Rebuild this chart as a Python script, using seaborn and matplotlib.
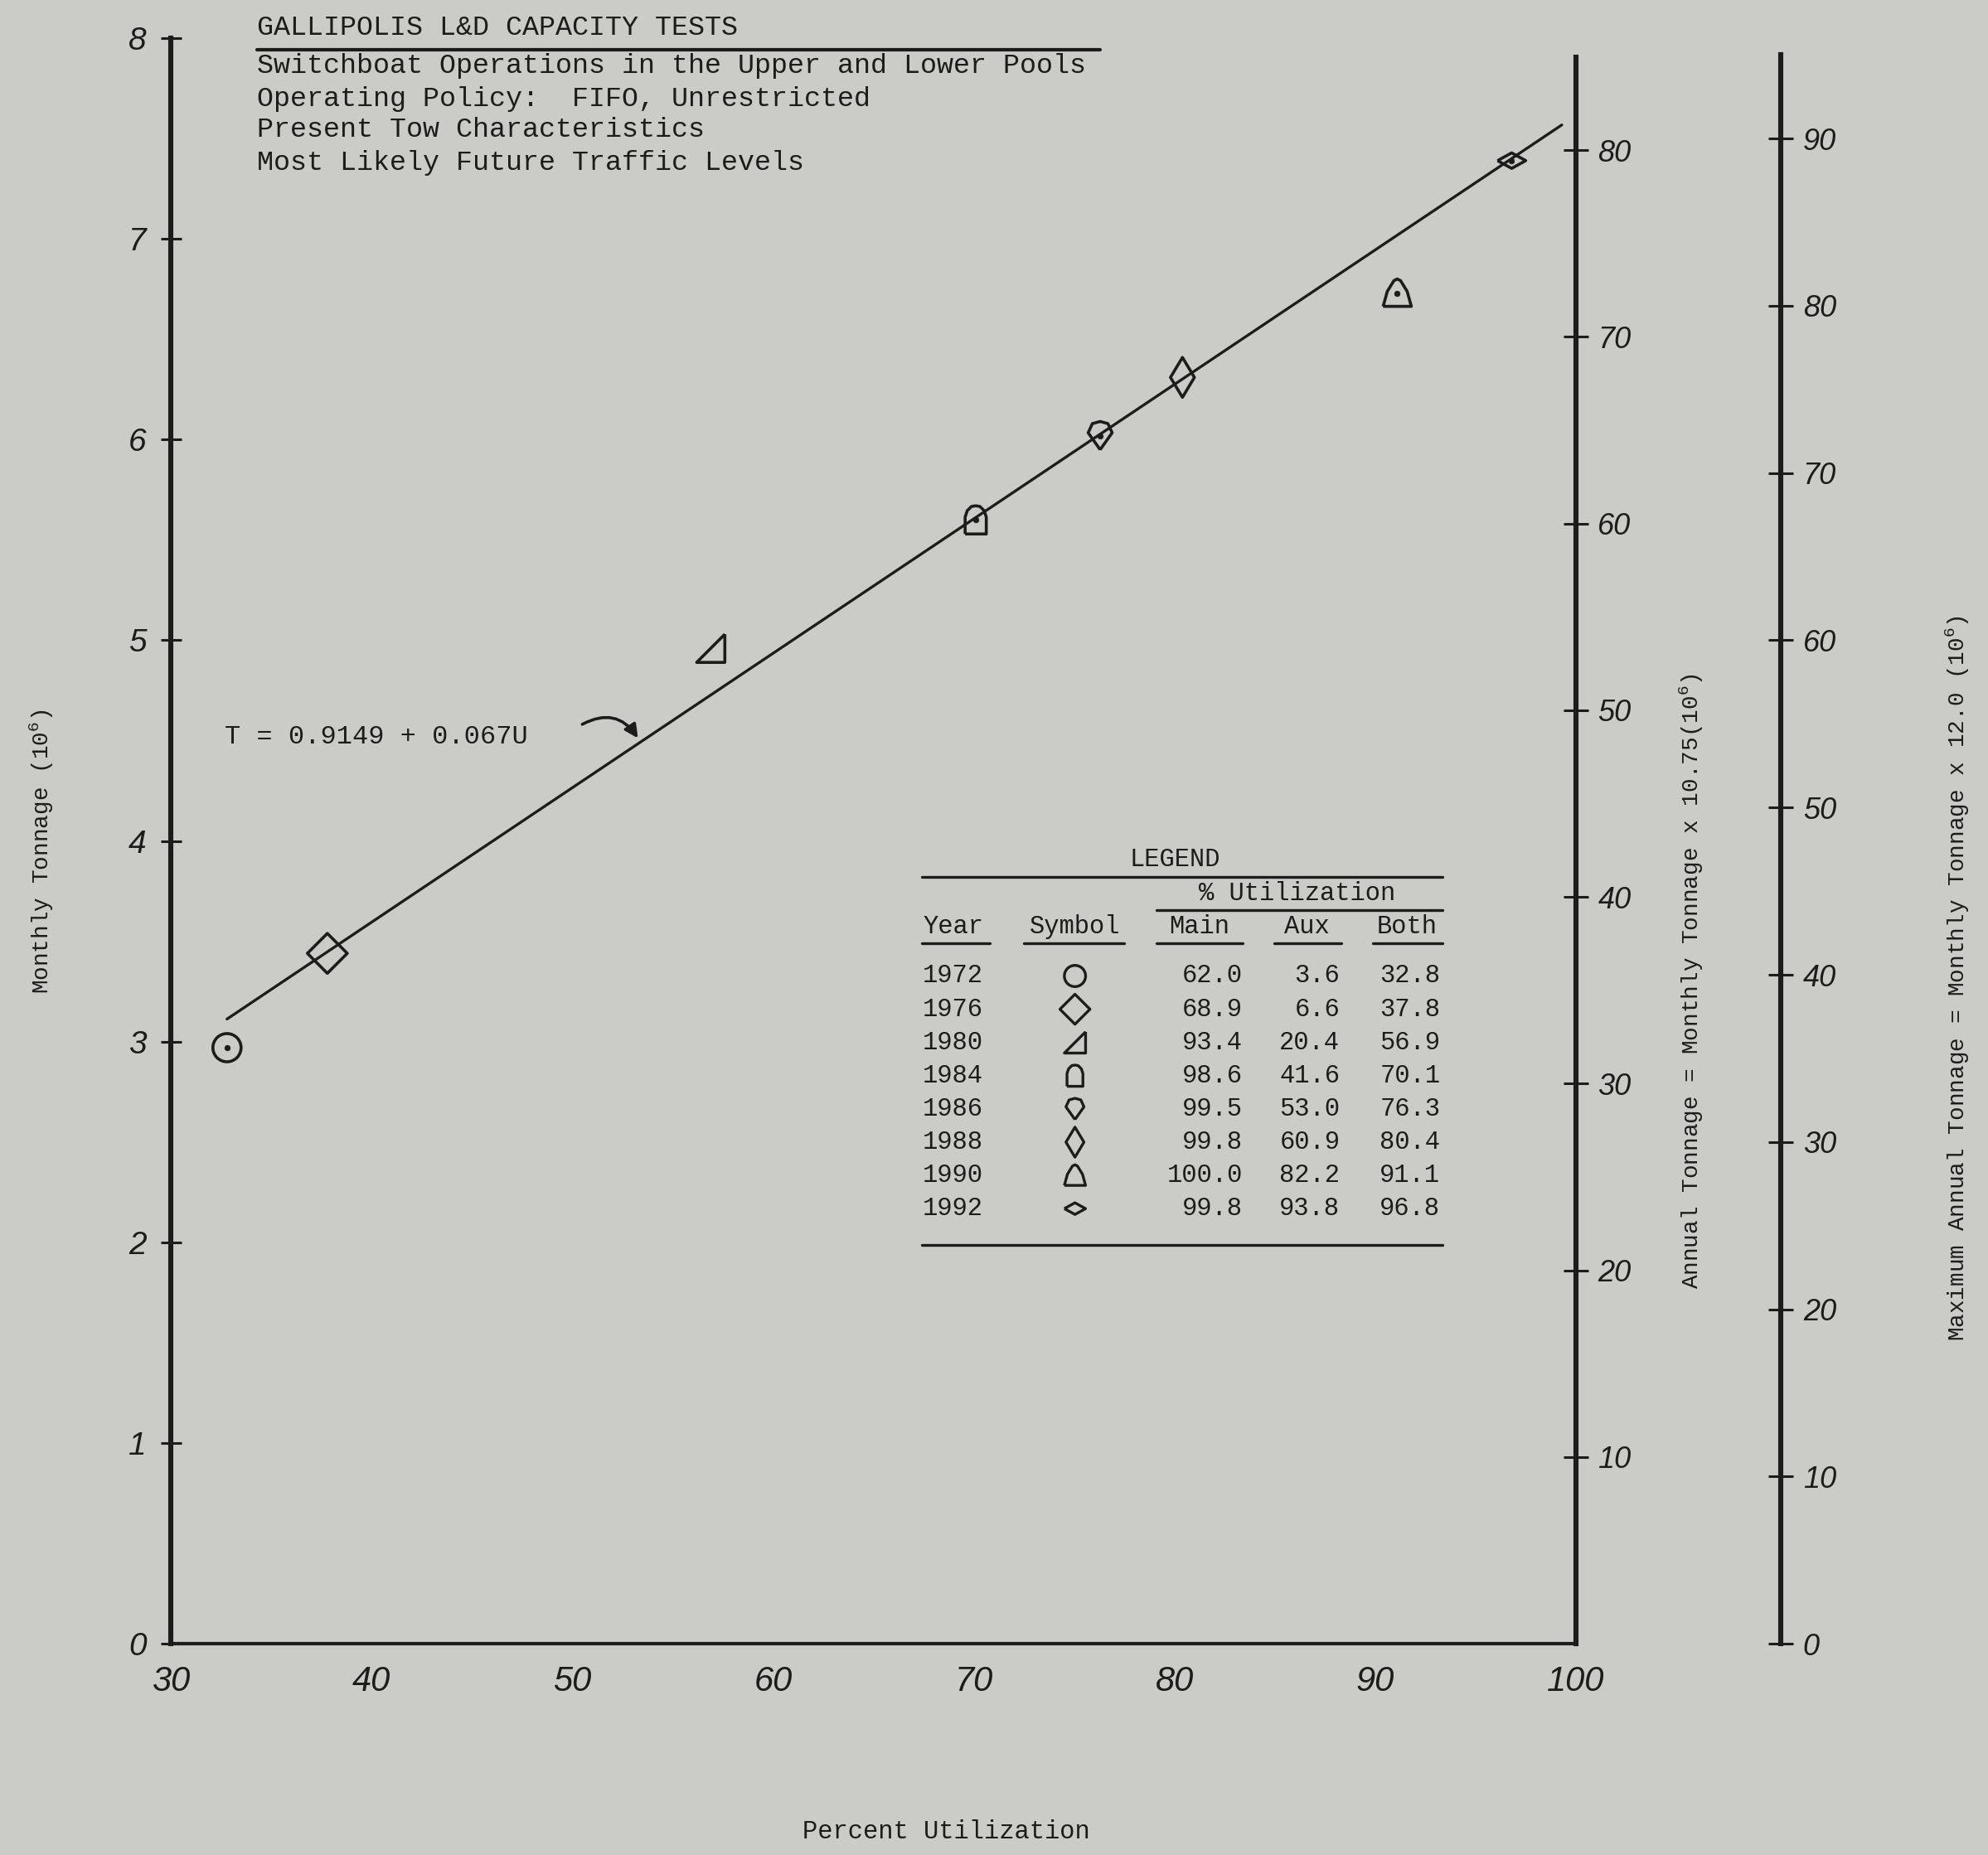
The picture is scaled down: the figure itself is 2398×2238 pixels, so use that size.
import matplotlib
matplotlib.use("Agg")
import matplotlib.pyplot as plt
import seaborn as sns
import numpy as np

# table / point data
years = ["1972", "1976", "1980", "1984", "1986", "1988", "1990", "1992"]
main_util = [62.0, 68.9, 93.4, 98.6, 99.5, 99.8, 100.0, 99.8]
aux_util = [3.6, 6.6, 20.4, 41.6, 53.0, 60.9, 82.2, 93.8]
both_util = [32.8, 37.8, 56.9, 70.1, 76.3, 80.4, 91.1, 96.8]
monthly_tonnage = [2.97, 3.44, 4.96, 5.60, 6.02, 6.31, 6.73, 7.39]
dotted_years = ["1972", "1984", "1986", "1990", "1992"]

# fitted line T = a + bU
fit_intercept = 0.9149
fit_slope = 0.067
fit_range = [32.8, 99.3]

x_ticks = [30, 40, 50, 60, 70, 80, 90, 100]
monthly_ticks = [0, 1, 2, 3, 4, 5, 6, 7, 8]
annual_factor = 10.75
annual_ticks = [10, 20, 30, 40, 50, 60, 70, 80]
max_factor = 12.0
max_ticks = [0, 10, 20, 30, 40, 50, 60, 70, 80, 90]

title_lines = [
    "GALLIPOLIS L&D CAPACITY TESTS",
    "Switchboat Operations in the Upper and Lower Pools",
    "Operating Policy:  FIFO, Unrestricted",
    "Present Tow Characteristics",
    "Most Likely Future Traffic Levels",
]

symbols = {
    "1972": "o",
    "1976": "D",
    "1980": [(1, 1), (1, -1), (-1, -1), (1, 1)],
    "1984": [(-0.75, -1), (0.75, -1), (0.75, 0.2), (0.6, 0.65), (0.3, 0.95), (0, 1),
             (-0.3, 0.95), (-0.6, 0.65), (-0.75, 0.2), (-0.75, -1)],
    "1986": [(0, -1), (0.85, 0.2), (0.55, 0.85), (0, 1), (-0.55, 0.85), (-0.85, 0.2), (0, -1)],
    "1988": "d",
    "1990": [(-0.85, -0.8), (0.85, -0.8), (0.6, 0.1), (0.2, 0.75), (0, 0.85),
             (-0.2, 0.75), (-0.6, 0.1), (-0.85, -0.8)],
    "1992": [(-1, 0), (0, 0.55), (1, 0), (0, -0.55), (-1, 0)],
}

paper = "#cbccc8"
ink = "#1c1c1c"

sns.set_theme(style="white")
plt.rcParams["font.family"] = ["Liberation Mono", "DejaVu Sans Mono"]
plt.rcParams["mathtext.default"] = "regular"
plt.rcParams["text.color"] = ink
plt.rcParams["axes.labelcolor"] = ink

fig = plt.figure(figsize=(11.99, 11.19), dpi=200, facecolor=paper)
ax = fig.add_axes([0.0859, 0.1139, 0.7068, 0.8655], facecolor=paper)

hand = dict(family="Liberation Sans", style="italic")

# regression line
fit_x = np.array(fit_range)
sns.lineplot(x=fit_x, y=fit_intercept + fit_slope * fit_x, color=ink, lw=1.2, ax=ax)

# points
for yr, u, t in zip(years, both_util, monthly_tonnage):
    sns.scatterplot(x=[u], y=[t], marker=symbols[yr], s=150, facecolors="none",
                    edgecolor=ink, linewidth=1.3, ax=ax, zorder=3)
    if yr in dotted_years:
        sns.scatterplot(x=[u], y=[t], marker="o", s=6, color=ink, edgecolor=ink, ax=ax, zorder=4)

ax.set_xlim(30, 100)
ax.set_ylim(0, 8)
ax.set_xticks(x_ticks)
ax.set_yticks(monthly_ticks)
ax.set_xticklabels([str(v) for v in x_ticks], fontsize=15, **hand)
ax.set_yticklabels([str(v) for v in monthly_ticks], fontsize=14, **hand)
for s in ["top", "right"]:
    ax.spines[s].set_visible(False)
ax.spines["left"].set_linewidth(2.2)
ax.spines["bottom"].set_linewidth(1.5)
for s in ["left", "bottom"]:
    ax.spines[s].set_color(ink)
ax.tick_params(axis="y", direction="inout", length=9, width=1.1, colors=ink, pad=6)
ax.tick_params(axis="x", direction="inout", length=7, width=1.0, colors=ink, pad=6)

ax.set_xlabel("Percent Utilization", fontsize=11)
ax.xaxis.set_label_coords(0.5516, -0.117)
ax.xaxis.label.set_va("center")
ax.set_ylabel("Monthly Tonnage (10$^6$)", fontsize=10)
ax.yaxis.set_label_coords(-0.092, 0.4935)
ax.yaxis.label.set_va("center")

# annual tonnage axis
ax2 = ax.twinx()
for s in ["top", "left", "bottom"]:
    ax2.spines[s].set_visible(False)
ax2.spines["right"].set_linewidth(2.2)
ax2.spines["right"].set_color(ink)
ax2.set_ylim(0, 8 * annual_factor)
ax2.set_yticks(annual_ticks)
ax2.set_yticklabels([str(v) for v in annual_ticks], fontsize=13, **hand)
ax2.spines["right"].set_bounds(0, 85)
ax2.tick_params(axis="y", direction="inout", length=11, width=1.1, colors=ink, pad=4)
ax2.set_ylabel("Annual Tonnage = Monthly Tonnage x 10.75(10$^6$)", fontsize=10)
ax2.yaxis.set_label_coords(1.0826, 0.413)
ax2.yaxis.label.set_va("center")

# maximum annual tonnage axis
ax3 = ax.twinx()
ax3.spines["right"].set_position(("axes", 1.146))
for s in ["top", "left", "bottom"]:
    ax3.spines[s].set_visible(False)
ax3.spines["right"].set_linewidth(2.2)
ax3.spines["right"].set_color(ink)
ax3.set_ylim(0, 8 * max_factor)
ax3.set_yticks(max_ticks)
ax3.set_yticklabels([str(v) for v in max_ticks], fontsize=13, **hand)
ax3.spines["right"].set_bounds(0, 95)
ax3.tick_params(axis="y", direction="inout", length=11, width=1.1, colors=ink, pad=4)
ax3.set_ylabel("Maximum Annual Tonnage = Monthly Tonnage x 12.0 (10$^6$)", fontsize=10)
ax3.yaxis.set_label_coords(1.272, 0.4145)
ax3.yaxis.label.set_va("center")

# title block
title_y = [1.0064, 0.9826, 0.9621, 0.9432, 0.9226]
for line, ty in zip(title_lines, title_y):
    ax.text(0.0614, ty, line, transform=ax.transAxes, fontsize=12, va="center",
            ha="left", clip_on=False)
ax.plot([0.0614, 0.6615], [0.9929, 0.9929], transform=ax.transAxes, color=ink,
        lw=1.5, clip_on=False)

# equation and arrow
ax.text(32.7, 4.52, "T = 0.9149 + 0.067U", fontsize=11.5, va="center", ha="left")
u_arrow = 53.4
ax.annotate("", xy=(u_arrow, fit_intercept + fit_slope * u_arrow), xytext=(50.3, 4.57),
            arrowprops=dict(arrowstyle="-|>", connectionstyle="arc3,rad=-0.5",
                            color=ink, lw=1.3, mutation_scale=12))

# legend table
tr = ax.transAxes
ax.text(0.7148, 0.4886, "LEGEND", transform=tr, fontsize=11, ha="center", va="center")
ax.plot([0.5343, 0.9052], [0.4775, 0.4775], transform=tr, color=ink, lw=1.2)
ax.text(0.8014, 0.4672, "% Utilization", transform=tr, fontsize=11, ha="center", va="center")
ax.plot([0.7013, 0.9052], [0.4570, 0.4570], transform=tr, color=ink, lw=1.2)
headers = [("Year", 0.5352, "left"), ("Symbol", 0.6435, "center"), ("Main", 0.7320, "center"),
           ("Aux", 0.8087, "center"), ("Both", 0.8800, "center")]
for h, hx, ha in headers:
    ax.text(hx, 0.4467, h, transform=tr, fontsize=11, ha=ha, va="center")
for x0, x1 in [(0.5343, 0.5830), (0.6074, 0.6787), (0.7013, 0.7626), (0.7852, 0.8330), (0.8556, 0.9052)]:
    ax.plot([x0, x1], [0.4365, 0.4365], transform=tr, color=ink, lw=1.2)

row_y = 0.4159
row_step = 0.0207
for i, yr in enumerate(years):
    ry = row_y - i * row_step
    ax.text(0.5352, ry, yr, transform=tr, fontsize=11, ha="left", va="center")
    ax.scatter([0.6435], [ry], marker=symbols[yr], s=85, facecolors="none", edgecolors=ink,
               linewidths=1.2, transform=tr, clip_on=False)
    ax.text(0.7626, ry, f"{main_util[i]:.1f}", transform=tr, fontsize=11, ha="right", va="center")
    ax.text(0.8321, ry, f"{aux_util[i]:.1f}", transform=tr, fontsize=11, ha="right", va="center")
    ax.text(0.9034, ry, f"{both_util[i]:.1f}", transform=tr, fontsize=11, ha="right", va="center")
ax.plot([0.5343, 0.9052], [0.2486, 0.2486], transform=tr, color=ink, lw=1.2)

fig.savefig("out.png", dpi=200, facecolor=paper)
